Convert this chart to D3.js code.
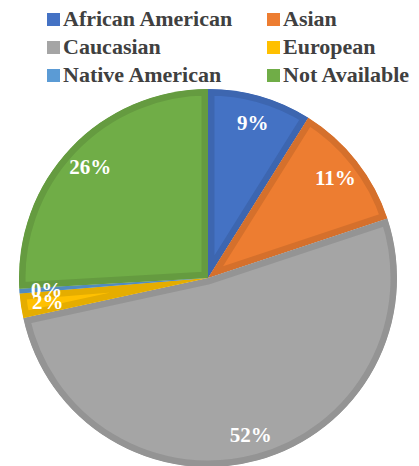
<!DOCTYPE html>
<html>
<head>
<meta charset="utf-8">
<script src="https://cdn.jsdelivr.net/npm/d3@7"></script>
</head>
<body style="margin:0;background:#ffffff">
<svg id="chart" width="419" height="466" style="font-family: 'Times New Roman', 'Liberation Serif', Tinos, Times; font-weight: bold"></svg>
<script>
// Share of records by ethnicity (percent)
const categories = ["African American", "Asian", "Caucasian", "European", "Native American", "Not Available"];
const shares = [8.9, 11.0, 51.7, 2.1, 0.4, 25.9];
const colors = ["#4472C4", "#ED7D31", "#A5A5A5", "#FFC000", "#5B9BD5", "#70AD47"];

const cx = 208, cy = 278, radius = 189;

const svg = d3.select("#chart");
const total = d3.sum(shares);
const data = categories.map((name, i) => ({ name, value: shares[i], color: colors[i] }));

const pie = d3.pie().value(d => d.value).sort(null).startAngle(0).endAngle(2 * Math.PI);
const arcs = pie(data);
const arc = d3.arc().innerRadius(0).outerRadius(radius);
const labelArc = d3.arc().innerRadius(162).outerRadius(162);

const g = svg.append("g").attr("transform", `translate(${cx},${cy})`);
const defs = svg.append("defs");

// each slice is clipped to itself so its darker outline sits on the inside
arcs.forEach((a, i) => {
  defs.append("clipPath").attr("id", "slice-clip-" + i)
    .append("path").attr("d", arc(a));
});

g.selectAll("path.slice")
  .data(arcs)
  .join("path")
  .attr("class", "slice")
  .attr("d", arc)
  .attr("fill", d => d.data.color)
  .attr("stroke", d => d3.color(d.data.color).darker(0.3))
  .attr("stroke-width", 13)
  .attr("stroke-linejoin", "miter")
  .attr("clip-path", (d, i) => `url(#slice-clip-${i})`);

// percentage labels
const fmt = v => Math.round(v / total * 100) + "%";
g.selectAll("text.pct")
  .data(arcs)
  .join("text")
  .attr("class", "pct")
  .attr("transform", d => `translate(${labelArc.centroid(d)})`)
  .attr("text-anchor", "middle")
  .attr("dy", "0.35em")
  .attr("fill", "#ffffff")
  .attr("font-size", 21)
  .text(d => fmt(d.data.value));

// legend: two columns, three rows
const legendX = [47, 267], legendY = [26, 54, 82];
const legend = svg.append("g");
data.forEach((d, i) => {
  const col = i % 2, row = Math.floor(i / 2);
  const x = legendX[col], y = legendY[row];
  legend.append("rect")
    .attr("x", x).attr("y", y - 13)
    .attr("width", 13).attr("height", 13)
    .attr("fill", d.color);
  legend.append("text")
    .attr("x", x + 16).attr("y", y)
    .attr("fill", "#404040")
    .attr("font-size", 22)
    .text(d.name);
});
</script>
</body>
</html>
